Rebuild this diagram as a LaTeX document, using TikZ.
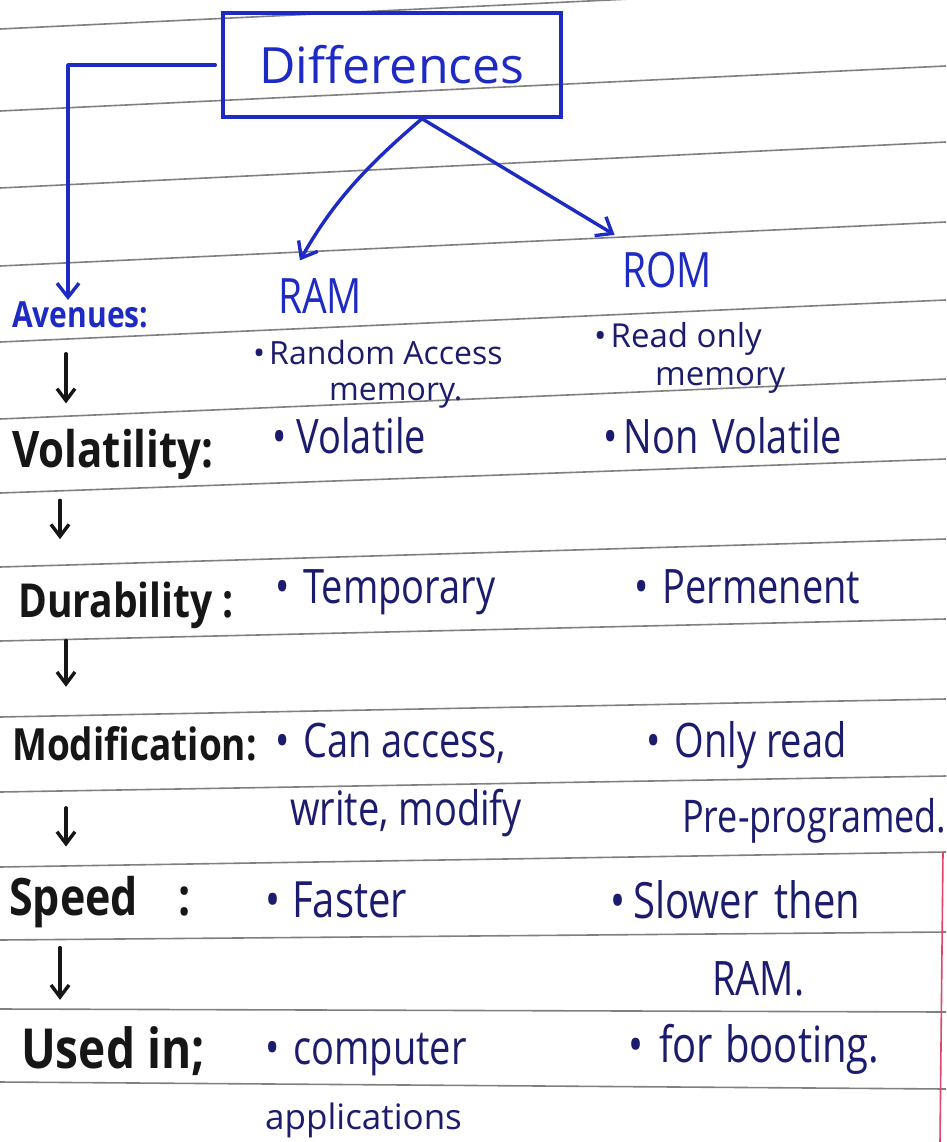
\documentclass[tikz,border=0pt]{standalone}
\usepackage{fontspec}
\setmainfont{Open Sans}
\usetikzlibrary{arrows.meta}
\definecolor{penblue}{RGB}{30,42,196}
\definecolor{inknavy}{RGB}{28,28,110}
\definecolor{markerblack}{RGB}{22,22,22}
\definecolor{rulegray}{RGB}{128,128,128}
\definecolor{marginred}{RGB}{222,70,110}

\begin{document}
\begin{tikzpicture}[
  x=1pt, y=1pt,
  ruled_line/.style={rulegray, line width=1.6pt},
  blue_pen/.style={penblue, line width=3.4pt, line cap=round, line join=round},
  blue_arrow/.style={blue_pen, -{Straight Barb[length=14pt, width=22pt]}},
  black_arrow/.style={markerblack, line width=3.4pt, line cap=round, -{Straight Barb[length=12pt, width=18pt]}},
  head_box/.style={draw=penblue, line width=3.4pt, minimum width=338pt, minimum height=104pt, inner sep=0pt, text=penblue, font=\fontsize{50}{50}\selectfont},
  mem_title/.style={text=penblue, inner sep=0pt, anchor=base west, yscale=1.25, font=\fontsize{39}{39}\selectfont},
  avenue_label/.style={text=markerblack, inner sep=0pt, anchor=base west, yscale=1.2, font=\fontsize{#1}{#1}\selectfont\bfseries},
  value_text/.style={text=inknavy, inner sep=0pt, anchor=base west, yscale=1.25, font=\fontsize{#1}{#1}\selectfont},
  note_text/.style={text=inknavy, inner sep=0pt, anchor=base west, font=\fontsize{#1}{#1}\selectfont},
]
\path [use as bounding box, fill=white] (0,0) rectangle (946,-1142);
\clip (0,0) rectangle (946,-1142);
\foreach \l/\r in {29/-16, 111/66, 188/142, 266/222, 342/300, 419/379, 493/459, 567/539, 641/619, 717/699, 792/776, 867/852, 940/932, 1009/1012, 1082/1089}
  \draw [ruled_line] (0,-\l) -- (946,-\r);
\draw [marginred, line width=1.6pt] (943,-852) -- (940,-1142);

\draw (392,-65) node (diff) [head_box] {Differences};
\draw (12,-327) node (avenues) [avenue_label=30, text=penblue] {Avenues:};
\draw (278,-313) node (ram) [mem_title] {RAM};
\draw (622,-287) node (rom) [mem_title] {ROM};
\draw (253,-364) node (ram_full) [note_text=32] {\textbullet\hspace{4pt}Random Access};
\draw (329,-400) node (ram_full2) [note_text=32] {memory.};
\draw (594,-347) node (rom_full) [note_text=33] {\textbullet\hspace{4pt}Read only};
\draw (655,-385) node (rom_full2) [note_text=33] {memory};

\draw (12,-467) node (volat) [avenue_label=42] {Volatility:};
\draw (18,-617) node (durab) [avenue_label=39] {Durability :};
\draw (12,-760) node (modif) [avenue_label=37] {Modification:};
\draw (9,-915) node (speed) [avenue_label=43] {Speed\hspace{40pt}:};
\draw (21,-1068) node (usedin) [avenue_label=46] {Used in;};

\draw (272,-453) node (vol_ram) [value_text=38] {\textbullet\hspace{10pt}Volatile};
\draw (603,-453) node (vol_rom) [value_text=38] {\textbullet\hspace{6pt}Non\hspace{14pt}Volatile};
\draw (275,-603) node (dur_ram) [value_text=38] {\textbullet\hspace{14pt}Temporary};
\draw (634,-603) node (dur_rom) [value_text=38] {\textbullet\hspace{14pt}Permenent};
\draw (275,-757) node (mod_ram) [value_text=38] {\textbullet\hspace{14pt}Can access,};
\draw (646,-757) node (mod_rom) [value_text=38] {\textbullet\hspace{14pt}Only read};
\draw (290,-825) node (mod_ram2) [value_text=38] {write, modify};
\draw (682,-832) node (mod_rom2) [value_text=36] {Pre-programed.};
\draw (265,-917) node (spd_ram) [value_text=40] {\textbullet\hspace{12pt}Faster};
\draw (610,-918) node (spd_rom) [value_text=40] {\textbullet\hspace{8pt}Slower\hspace{16pt}then};
\draw (712,-995) node (spd_rom2) [value_text=38] {RAM.};
\draw (265,-1064) node (use_ram) [value_text=38] {\textbullet\hspace{14pt}computer};
\draw (628,-1062) node (use_rom) [value_text=40] {\textbullet\hspace{16pt}for\hspace{12pt}booting.};
\draw (265,-1129) node (use_ram2) [note_text=35] {applications};

\draw [blue_arrow, shorten <=6pt, shorten >=1pt] (diff.west) -| ([xshift=56pt]avenues.north west);
\coordinate (fork) at ([xshift=30pt]diff.south);
\draw [blue_arrow, shorten >=20pt] (fork) to [bend right=10] ([xshift=12pt]ram.north west);
\draw [blue_arrow, shorten >=32pt] (fork) -- ([xshift=20pt]rom.north west);

\foreach \a/\b/\x/\s/\e in {avenues/volat/54/26/25, volat/durab/48/21/42, durab/modif/48/12/39, modif/speed/54/47/29, speed/usedin/51/20/26}
  \draw [black_arrow, shorten <=\s pt, shorten >=\e pt] ([xshift=\x pt]\a.south west) -- ([xshift=\x pt]\a.south west |- \b.north);
\end{tikzpicture}
\end{document}
